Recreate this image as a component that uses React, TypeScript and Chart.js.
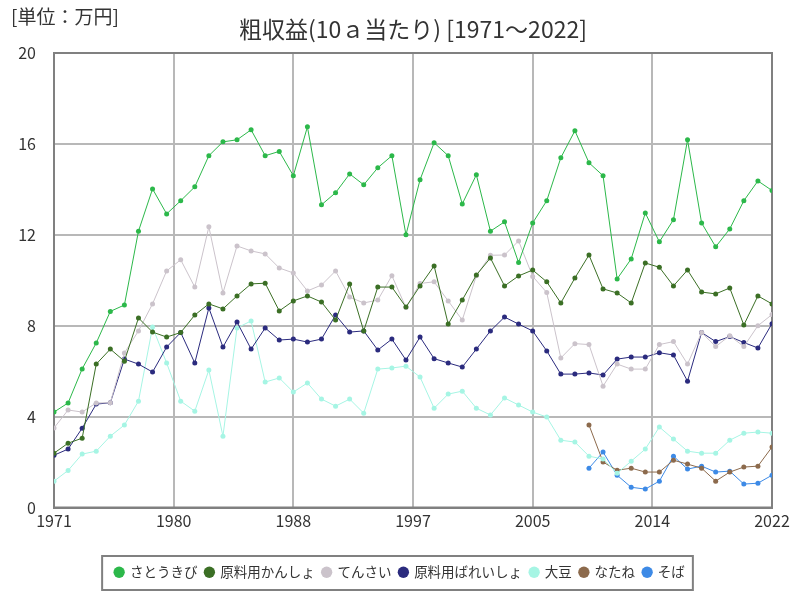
import React, { useEffect, useRef } from 'react';
import { Chart, registerables } from 'chart.js';

Chart.register(...registerables);

const titleText = '粗収益(10ａ当たり) [1971～2022]';
const unitLabel = '[単位：万円]';

const years = [
  1971, 1972, 1973, 1974, 1975, 1976, 1977, 1978, 1979, 1980,
  1981, 1982, 1983, 1984, 1985, 1986, 1987, 1988, 1989, 1990,
  1991, 1992, 1993, 1994, 1995, 1996, 1997, 1998, 1999, 2000,
  2001, 2002, 2003, 2004, 2005, 2006, 2007, 2008, 2009, 2010,
  2011, 2012, 2013, 2014, 2015, 2016, 2017, 2018, 2019, 2020,
  2021, 2022,
];

const xTickLabels = ['1971', '1980', '1988', '1997', '2005', '2014', '2022'];
const yTicks = [0, 4, 8, 12, 16, 20];

const satoukibi = [
  4.2, 4.6, 6.1, 7.24, 8.63, 8.91, 12.16, 14.02, 12.92, 13.5,
  14.11, 15.48, 16.09, 16.18, 16.62, 15.48, 15.67, 14.6, 16.75, 13.32,
  13.85, 14.68, 14.2, 14.95, 15.48, 12.0, 14.42, 16.05, 15.48, 13.36,
  14.64, 12.16, 12.57, 10.78, 12.52, 13.5, 15.39, 16.58, 15.17, 14.6,
  10.06, 10.94, 12.96, 11.69, 12.66, 16.18, 12.52, 11.47, 12.26, 13.5,
  14.37, 13.95,
];

const kansho = [
  2.39, 2.83, 3.05, 6.31, 6.97, 6.44, 8.34, 7.72, 7.5, 7.7,
  8.47, 8.96, 8.74, 9.31, 9.84, 9.87, 8.65, 9.09, 9.31, 9.04,
  8.25, 9.84, 7.77, 9.7, 9.7, 8.82, 9.75, 10.63, 8.07, 9.13,
  10.23, 10.98, 9.75, 10.19, 10.45, 9.93, 9.0, 10.1, 11.11, 9.62,
  9.44, 9.0, 10.76, 10.57, 9.75, 10.45, 9.48, 9.4, 9.66, 8.03,
  9.31, 8.96,
];

const tensai = [
  3.5, 4.29, 4.2, 4.6, 4.61, 6.8, 7.77, 8.96, 10.41, 10.9,
  9.7, 12.35, 9.44, 11.51, 11.29, 11.16, 10.54, 10.32, 9.53, 9.79,
  10.41, 9.26, 9.0, 9.13, 10.2, 8.8, 9.86, 9.93, 9.09, 8.25,
  10.2, 11.1, 11.11, 11.73, 10.17, 9.46, 6.58, 7.21, 7.17, 5.34,
  6.31, 6.09, 6.09, 7.17, 7.3, 6.31, 7.7, 7.08, 7.56, 7.08,
  8.0, 8.49,
];

const bareisho = [
  2.3, 2.57, 3.49, 4.55, 4.61, 6.53, 6.31, 5.96, 7.06, 7.7,
  6.36, 8.78, 7.06, 8.16, 6.97, 7.9, 7.37, 7.41, 7.28, 7.41,
  8.47, 7.72, 7.77, 6.93, 7.41, 6.49, 7.5, 6.55, 6.36, 6.18,
  6.97, 7.77, 8.38, 8.07, 7.77, 6.89, 5.87, 5.87, 5.92, 5.83,
  6.53, 6.62, 6.62, 6.81, 6.71, 5.56, 7.7, 7.3, 7.52, 7.26,
  7.02, 8.09,
];

const daizu = [
  1.16, 1.63, 2.35, 2.48, 3.14, 3.63, 4.68, 7.94, 6.36, 4.68,
  4.24, 6.05, 3.14, 7.9, 8.21, 5.52, 5.7, 5.08, 5.48, 4.77,
  4.46, 4.77, 4.15, 6.09, 6.14, 6.22, 5.74, 4.37, 4.99, 5.12,
  4.37, 4.07, 4.82, 4.51, 4.2, 3.98, 2.96, 2.88, 2.26, 2.13,
  1.51, 2.04, 2.57, 3.54, 3.01, 2.48, 2.39, 2.39, 2.96, 3.27,
  3.32, 3.27,
];

const natane = [
  null, null, null, null, null, null, null, null, null, null,
  null, null, null, null, null, null, null, null, null, null,
  null, null, null, null, null, null, null, null, null, null,
  null, null, null, null, null, null, null, null, 3.63, 2.0,
  1.64, 1.73, 1.56, 1.56, 2.08, 1.91, 1.73, 1.16, 1.56, 1.78,
  1.82, 2.66,
];

const soba = [
  null, null, null, null, null, null, null, null, null, null,
  null, null, null, null, null, null, null, null, null, null,
  null, null, null, null, null, null, null, null, null, null,
  null, null, null, null, null, null, null, null, 1.73, 2.44,
  1.42, 0.89, 0.81, 1.16, 2.26, 1.69, 1.82, 1.56, 1.6, 1.03,
  1.07, 1.42,
];

const seriesNames = ['さとうきび', '原料用かんしょ', 'てんさい', '原料用ばれいしょ', '大豆', 'なたね', 'そば'];
const seriesValues = [satoukibi, kansho, tensai, bareisho, daizu, natane, soba];
const seriesColors = ['#2cb84a', '#3b6f25', '#cbc3cb', '#2b2b7e', '#a6f5e4', '#8c6a4c', '#3d8ae6'];

const FONT = "'Noto Sans CJK JP', 'Noto Sans', sans-serif";
const LEGEND_PAD = 8;

const decorPlugin = {
  id: 'decor',
  afterLayout(chart: any) {
    const lg = chart.legend;
    if (lg) {
      lg.left += 14;
      lg.right += 14;
    }
  },
  beforeDatasetsDraw(chart: any) {
    const { ctx, chartArea: a } = chart;
    ctx.save();
    ctx.strokeStyle = '#808080';
    ctx.lineWidth = 2;
    ctx.strokeRect(a.left, a.top, a.right - a.left, a.bottom - a.top);
    ctx.restore();
  },
  afterDraw(chart: any) {
    const { ctx } = chart;
    ctx.save();
    ctx.fillStyle = '#333333';
    ctx.textBaseline = 'middle';
    ctx.textAlign = 'left';
    ctx.font = `19px ${FONT}`;
    ctx.fillText(unitLabel, 11, 17);
    ctx.textAlign = 'center';
    ctx.font = `23px ${FONT}`;
    ctx.fillText(titleText, 413, 29);
    const lg = chart.legend;
    if (lg && lg.lineWidths && lg.lineWidths.length) {
      const lw = lg.lineWidths[0];
      const start = (lg.left + LEGEND_PAD + lg.right - lw) / 2;
      const left = start - 13;
      const right = start + lw;
      ctx.strokeStyle = '#808080';
      ctx.lineWidth = 2;
      ctx.strokeRect(left, 556, right - left, 34);
    }
    ctx.restore();
  },
};

export default function App() {
  const ref = useRef<HTMLCanvasElement>(null);
  useEffect(() => {
    document.body.style.margin = '0';
    const datasets = seriesNames.map((name, i) => ({
      label: name,
      data: years.map((y, j) => ({ x: y, y: seriesValues[i][j] })),
      borderColor: seriesColors[i],
      backgroundColor: seriesColors[i],
      borderWidth: 1,
      pointRadius: 2.5,
      pointBorderWidth: 0,
      pointHoverRadius: 2.5,
      spanGaps: false,
      tension: 0,
    }));
    const first = years[0];
    const last = years[years.length - 1];
    const step = (last - first) / (xTickLabels.length - 1);
    const chart = new Chart(ref.current as HTMLCanvasElement, {
      type: 'line',
      data: { datasets },
      plugins: [decorPlugin],
      options: {
        animation: false,
        responsive: false,
        layout: { padding: { top: 53, right: 28, bottom: 11, left: 0 } },
        scales: {
          x: {
            type: 'linear',
            min: first,
            max: last,
            afterFit: (s: any) => { s.height = 50; },
            afterBuildTicks: (s: any) => {
              s.ticks = xTickLabels.map((_, i) => ({ value: first + i * step }));
            },
            ticks: {
              autoSkip: false,
              maxRotation: 0,
              padding: 4,
              color: '#333333',
              font: { family: FONT, size: 16 },
              callback: (_v: any, i: number) => xTickLabels[i],
            },
            grid: { color: '#b8b8b8', lineWidth: 2, drawTicks: false },
            border: { color: '#808080', width: 2 },
          },
          y: {
            min: 0,
            max: 20,
            afterFit: (s: any) => { s.width = 54; },
            afterBuildTicks: (s: any) => {
              s.ticks = yTicks.map((v) => ({ value: v }));
            },
            ticks: {
              padding: 18,
              color: '#333333',
              font: { family: FONT, size: 16 },
            },
            grid: { color: '#b8b8b8', lineWidth: 2, drawTicks: false },
            border: { color: '#808080', width: 2 },
          },
        },
        plugins: {
          title: { display: false },
          tooltip: { enabled: false },
          legend: {
            position: 'bottom',
            labels: {
              usePointStyle: true,
              pointStyle: 'circle',
              boxWidth: 8,
              boxHeight: 8,
              padding: LEGEND_PAD,
              color: '#333333',
              font: { family: FONT, size: 13.5 },
            },
          },
        },
      },
    } as any);
    return () => chart.destroy();
  }, []);
  return (
    <div style={{ width: 800, height: 600, background: '#ffffff' }}>
      <canvas ref={ref} width={800} height={600} />
    </div>
  );
}
